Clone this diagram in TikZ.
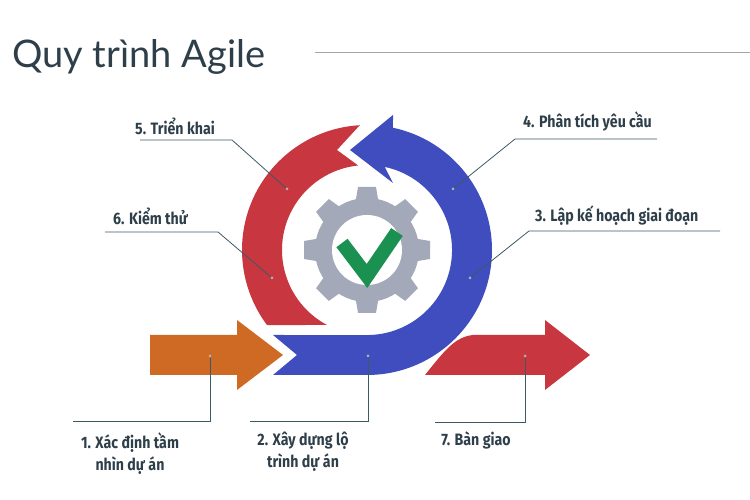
\documentclass[tikz,border=0pt]{standalone}
\usepackage{fontspec}
\setmainfont{Fira Sans}
\newfontfamily\titlefont{Lato}
\newfontfamily\labfont[FakeStretch=0.86]{Fira Sans}
\definecolor{cblue}{HTML}{3F4DBF}
\definecolor{cred}{HTML}{C8363F}
\definecolor{corange}{HTML}{CF6A24}
\definecolor{cgear}{HTML}{A3A9B8}
\definecolor{cgreen}{HTML}{1A9150}
\definecolor{ctext}{HTML}{2E3F4A}
\definecolor{cline}{HTML}{3C5A66}
\begin{document}
\begin{tikzpicture}[x=1pt,y=1pt,
  lab/.style={font=\labfont\bfseries\fontsize{16.5}{22}\selectfont, text=ctext, inner sep=0pt, align=center},
  leader/.style={draw=cline, line width=0.8pt},
  dotm/.style={circle, fill=gray!60, inner sep=0pt, minimum size=3pt}]
\useasboundingbox (0,0) rectangle (750,500);
% title
\node[anchor=base west, inner sep=0pt, text=ctext, font=\titlefont\fontsize{38}{40}\selectfont] (title) at (12,432) {Quy trình Agile};
\coordinate (t1) at (315,448);
\coordinate (t2) at (750,448);
\draw[gray!70, line width=0.8pt] (t1) -- (t2);
% blue ring arrow
\fill[cblue] (273,165) -- (297,145) -- (273,125) -- (367,125)
  arc[start angle=-90, end angle=78, radius=125]
  -- (393,385) -- (350,350) -- (393,317) -- (384.7,333.1)
  arc[start angle=78, end angle=-90, radius=85] -- cycle;
% red ring arrow
\begin{scope}[shift={(367,250)}]
\fill[cred] (93.3:125) arc[start angle=93.3, end angle=216.9, radius=125]
  -- (241.9:85) arc[start angle=241.9, end angle=96, radius=85] -- (-30,100) -- cycle;
% gear
\fill[cgear] (0,0) circle[radius=52];
\foreach \a in {0,45,...,315}
  \fill[cgear, rotate=\a] (-12,45) -- (-9,63) -- (9,63) -- (12,45) -- cycle;
\fill[white] (0,0) circle[radius=35];
\end{scope}
\draw[cgreen, line width=14pt] (342,257) -- (367,224) -- (397,268);
% orange arrow
\fill[corange] (150,125) -- (150,165) -- (237,165) -- (237,180) -- (283,145) -- (237,110) -- (237,125) -- cycle;
% red arrow
\fill[cred] (425,125) .. controls (445,150) and (455,163) .. (473,165) -- (545,165) -- (545,180) -- (590,145) -- (545,110) -- (545,125) -- cycle;
% dots
\node[dotm] (d5) at (287,311) {};
\node[dotm] (d6) at (272,222) {};
\node[dotm] (d4) at (453,311) {};
\node[dotm] (d3) at (470,222) {};
\node[dotm] (d1) at (210,144) {};
\node[dotm] (d2) at (368,144) {};
\node[dotm] (d7) at (525,144) {};
% labels
\node[lab, anchor=west] (l5) at (135,374) {5. Triển khai};
\node[lab, anchor=west] (l6) at (113,284) {6. Kiểm thử};
\node[lab, anchor=west] (l4) at (523,379) {4. Phân tích yêu cầu};
\node[lab, anchor=west] (l3) at (535,284) {3. Lập kế hoạch giai đoạn};
\node[lab, anchor=north] (l1) at (130,68) {1. Xác định tầm\\nhìn dự án};
\node[lab, anchor=north] (l2) at (303,68) {2. Xây dựng lộ\\trình dự án};
\node[lab, anchor=north] (l7) at (476,68) {7. Bàn giao};
% leaders
\draw[leader] (d5) -- (232,360) -- (140,360);
\draw[leader] (d6) -- (218,268) -- (105,268);
\draw[leader] (d4) -- (515,361) -- (657,361);
\draw[leader] (d3) -- (529,269) -- (720,269);
\draw[leader] (d1) -- (210,79) -- (73,79);
\draw[leader] (d2) -- (368,79) -- (250,79);
\draw[leader] (d7) -- (525,78) -- (435,78);
\end{tikzpicture}
\end{document}
